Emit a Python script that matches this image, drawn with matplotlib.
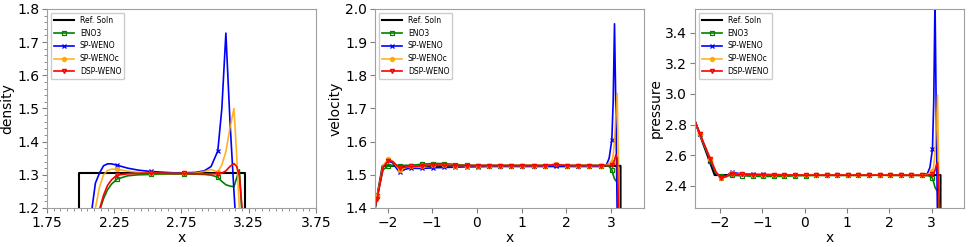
import matplotlib
matplotlib.use("Agg")
import matplotlib.pyplot as plt
from matplotlib.ticker import MultipleLocator

# ---- data ----
methods = ["ENO3", "SP-WENO", "SP-WENOc", "DSP-WENO"]

# density (zoom on the contact/shock region)
rho_ref_x = [1.75, 1.99, 1.99, 3.225, 3.225, 3.75]
rho_ref_y = [1.10, 1.10, 1.304, 1.304, 1.10, 1.10]
rho_ticks = [1.75, 2.25, 2.75, 3.25, 3.75]
rho_x = [2.02, 2.06, 2.09, 2.11, 2.14, 2.17, 2.20, 2.23, 2.27, 2.35, 2.43, 2.52, 2.60, 2.68,
         2.77, 2.85, 2.92, 2.97, 3.02, 3.05, 3.08, 3.11, 3.14, 3.16, 3.18, 3.20, 3.22, 3.25]
rho_eno3 = [1.00, 1.05, 1.10, 1.14, 1.19, 1.228, 1.255, 1.272, 1.287, 1.297, 1.300, 1.301, 1.302, 1.302,
            1.302, 1.302, 1.301, 1.299, 1.293, 1.28, 1.27, 1.266, 1.264, 1.29, 1.315, 1.18, 1.05, 1.00]
rho_spweno = [1.00, 1.12, 1.215, 1.275, 1.305, 1.327, 1.333, 1.333, 1.329, 1.320, 1.314, 1.310, 1.308, 1.306,
              1.306, 1.307, 1.312, 1.325, 1.372, 1.50, 1.727, 1.465, 1.25, 1.12, 1.05, 1.00, 1.00, 1.00]
rho_spwenoc = [1.00, 1.08, 1.16, 1.20, 1.262, 1.300, 1.313, 1.317, 1.317, 1.311, 1.307, 1.305, 1.304, 1.304,
               1.304, 1.305, 1.310, 1.316, 1.308, 1.33, 1.37, 1.44, 1.50, 1.36, 1.20, 1.08, 1.00, 1.00]
rho_dspweno = [1.00, 1.06, 1.11, 1.15, 1.195, 1.238, 1.268, 1.285, 1.299, 1.303, 1.304, 1.305, 1.305, 1.304,
               1.304, 1.303, 1.303, 1.303, 1.303, 1.305, 1.312, 1.325, 1.334, 1.325, 1.30, 1.20, 1.08, 1.00]

# velocity
u_ref_x = [-2.28, -2.11, 3.215, 3.215, 3.74]
u_ref_y = [1.398, 1.527, 1.527, 1.00, 1.00]
u_x = [-2.28, -2.23, -2.10, -1.98, -1.88, -1.73, -1.60, -1.48, -1.23, -0.98, -0.73, -0.48, -0.23, 0.02,
       0.27, 0.52, 0.77, 1.02, 1.27, 1.52, 1.77, 2.02, 2.27, 2.52, 2.77, 2.90, 2.96, 3.02, 3.05, 3.08,
       3.11, 3.14, 3.17, 3.20, 3.23]
u_eno3 = [1.405, 1.435, 1.515, 1.528, 1.528, 1.527, 1.528, 1.528, 1.532, 1.534, 1.534, 1.531, 1.529, 1.528,
          1.528, 1.528, 1.528, 1.528, 1.528, 1.528, 1.531, 1.528, 1.528, 1.528, 1.528, 1.527, 1.525, 1.515, 1.50, 1.488,
          1.482, 1.479, 1.40, 1.30, 1.20]
u_spweno = [1.41, 1.435, 1.525, 1.545, 1.535, 1.507, 1.517, 1.520, 1.519, 1.521, 1.522, 1.523, 1.524, 1.524,
            1.525, 1.525, 1.525, 1.525, 1.525, 1.525, 1.525, 1.525, 1.525, 1.525, 1.525, 1.53, 1.55, 1.605, 1.72, 1.955,
            1.70, 1.38, 1.30, 1.25, 1.20]
u_spwenoc = [1.41, 1.435, 1.528, 1.548, 1.54, 1.515, 1.522, 1.525, 1.527, 1.530, 1.529, 1.528, 1.528, 1.528,
             1.528, 1.528, 1.528, 1.528, 1.528, 1.528, 1.532, 1.528, 1.528, 1.528, 1.528, 1.530, 1.534, 1.54, 1.56, 1.60,
             1.68, 1.745, 1.52, 1.30, 1.20]
u_dspweno = [1.405, 1.428, 1.522, 1.543, 1.54, 1.52, 1.523, 1.525, 1.527, 1.530, 1.529, 1.528, 1.528, 1.528,
             1.528, 1.528, 1.528, 1.528, 1.528, 1.528, 1.531, 1.528, 1.528, 1.528, 1.528, 1.528, 1.528, 1.530, 1.535, 1.545,
             1.56, 1.55, 1.40, 1.30, 1.20]

# pressure
p_ref_x = [-2.60, -2.13, 3.21, 3.21, 3.76]
p_ref_y = [2.825, 2.47, 2.47, 2.00, 2.00]
p_x = [-2.60, -2.48, -2.23, -2.10, -1.98, -1.85, -1.73, -1.60, -1.48, -1.23, -0.98, -0.73, -0.48, -0.23,
       0.02, 0.27, 0.52, 0.77, 1.02, 1.27, 1.52, 1.77, 2.02, 2.27, 2.52, 2.77, 2.90, 2.96, 3.02, 3.05,
       3.08, 3.11, 3.14, 3.17, 3.20, 3.23]
p_eno3 = [2.825, 2.735, 2.56, 2.48, 2.462, 2.465, 2.468, 2.467, 2.466, 2.462, 2.461, 2.461, 2.462, 2.465,
          2.467, 2.468, 2.468, 2.468, 2.468, 2.468, 2.468, 2.470, 2.468, 2.468, 2.468, 2.468, 2.467, 2.462, 2.45, 2.42,
          2.39, 2.375, 2.37, 2.25, 2.10, 2.00]
p_spweno = [2.825, 2.735, 2.57, 2.485, 2.45, 2.465, 2.49, 2.482, 2.478, 2.475, 2.474, 2.473, 2.472, 2.471,
            2.470, 2.470, 2.470, 2.470, 2.470, 2.470, 2.470, 2.470, 2.470, 2.470, 2.470, 2.470, 2.48, 2.52, 2.64, 2.95,
            3.62, 2.85, 2.15, 2.05, 2.00, 2.00]
p_spwenoc = [2.825, 2.735, 2.575, 2.49, 2.448, 2.46, 2.485, 2.478, 2.475, 2.472, 2.471, 2.470, 2.470, 2.470,
             2.470, 2.470, 2.470, 2.470, 2.470, 2.470, 2.470, 2.472, 2.470, 2.470, 2.470, 2.470, 2.475, 2.485, 2.495, 2.53,
             2.62, 2.78, 2.99, 2.40, 2.10, 2.00]
p_dspweno = [2.825, 2.74, 2.574, 2.49, 2.452, 2.46, 2.48, 2.476, 2.474, 2.472, 2.471, 2.470, 2.470, 2.470,
             2.469, 2.469, 2.469, 2.469, 2.469, 2.469, 2.469, 2.470, 2.469, 2.469, 2.469, 2.468, 2.468, 2.470, 2.475, 2.48,
             2.50, 2.535, 2.55, 2.38, 2.10, 2.00]

styles = {
    "ENO3": dict(color="green", marker="s", mfc="none"),
    "SP-WENO": dict(color="blue", marker="x"),
    "SP-WENOc": dict(color="orange", marker="o", alpha=0.85),
    "DSP-WENO": dict(color="red", marker="v", mfc="none"),
}


def marks(xs):
    # markers sit on the 0.25 spaced output points
    return [i for i, x in enumerate(xs) if abs((x - 0.02) / 0.25 - round((x - 0.02) / 0.25)) < 1e-6]


fig = plt.figure(figsize=(9.69, 2.47), dpi=100)
panels = [
    (0.0485, "density", rho_ref_x, rho_ref_y, rho_x, [rho_eno3, rho_spweno, rho_spwenoc, rho_dspweno],
     (1.75, 3.75), (1.2, 1.8)),
    (0.387, "velocity", u_ref_x, u_ref_y, u_x, [u_eno3, u_spweno, u_spwenoc, u_dspweno],
     (-2.28, 3.74), (1.4, 2.0)),
    (0.717, "pressure", p_ref_x, p_ref_y, p_x, [p_eno3, p_spweno, p_spwenoc, p_dspweno],
     (-2.60, 3.76), (2.255, 3.555)),
]

for left, name, rx, ry, xs, series, xlim, ylim in panels:
    ax = fig.add_axes([left, 0.158, 0.2776, 0.806])
    ax.plot(rx, ry, color="black", lw=1.5, label="Ref. Soln")
    for m, ys in zip(methods, series):
        ax.plot(xs, ys, lw=1.2, ms=3, mew=0.9, markevery=marks(xs), label=m, **styles[m])
    ax.set_xlim(*xlim)
    ax.set_ylim(*ylim)
    ax.set_xlabel("x", fontsize=10, labelpad=1)
    ax.set_ylabel(name, fontsize=10, labelpad=2)
    ax.tick_params(labelsize=10, color="gray", pad=2)
    for s in ax.spines.values():
        s.set_color("#a0a0a0")
    if name == "density":
        ax.set_xticks(rho_ticks)
        ax.xaxis.set_minor_locator(MultipleLocator(0.05))
        ax.yaxis.set_major_locator(MultipleLocator(0.1))
        ax.yaxis.set_minor_locator(MultipleLocator(0.02))
        ax.tick_params(which="minor", color="gray", length=2)
    elif name == "velocity":
        ax.xaxis.set_major_locator(MultipleLocator(1))
        ax.yaxis.set_major_locator(MultipleLocator(0.1))
    else:
        ax.xaxis.set_major_locator(MultipleLocator(1))
        ax.yaxis.set_major_locator(MultipleLocator(0.2))
    ax.legend(loc="upper left", fontsize=5.5, handlelength=2.6, framealpha=1, edgecolor="#cccccc")

fig.savefig("out.png", dpi=100)
